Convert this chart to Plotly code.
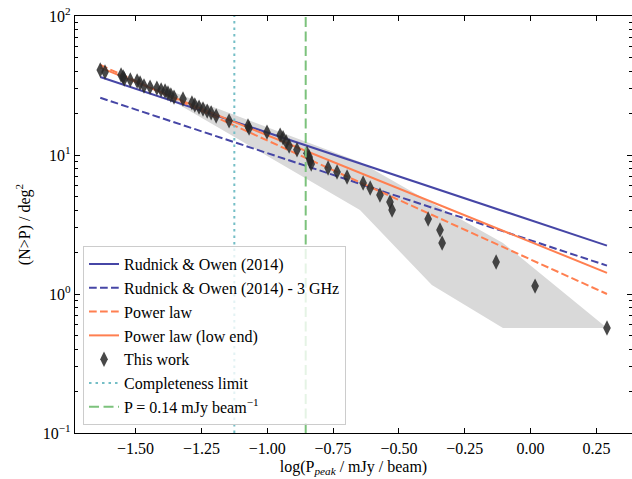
import plotly.graph_objects as go

# Cumulative source counts: log10(P_peak / mJy/beam) vs N(>P) per deg^2
log_p = [-1.634, -1.616, -1.555, -1.547, -1.543, -1.520, -1.494, -1.483, -1.468, -1.445,
         -1.419, -1.403, -1.388, -1.377, -1.366, -1.354, -1.320, -1.286, -1.275, -1.259,
         -1.244, -1.228, -1.213, -1.194, -1.145, -1.073, -1.069, -1.001, -0.951, -0.940,
         -0.928, -0.917, -0.887, -0.849, -0.841, -0.837, -0.833, -0.769, -0.735, -0.697,
         -0.636, -0.609, -0.572, -0.534, -0.526, -0.389, -0.344, -0.336, -0.131, 0.017,
         0.290]
n_gt_p = [40.9, 39.5, 37.6, 36.4, 35.2, 34.7, 34.1, 33.0, 31.4, 30.8,
          30.3, 29.4, 28.9, 27.9, 27.0, 26.1, 25.3, 23.7, 22.9, 22.1,
          21.4, 20.7, 20.1, 19.1, 17.6, 16.2, 15.6, 14.6, 13.9, 13.3,
          12.4, 11.6, 10.9, 10.3, 9.68, 9.06, 8.61, 8.06, 7.55, 6.95,
          6.29, 5.79, 5.16, 4.59, 4.02, 3.46, 2.89, 2.33, 1.70, 1.14,
          0.569]

# Uncertainty envelope
band_x = [-1.418, -0.648, -0.375, -0.105, 0.290]
band_upper = [31.3, 8.91, 4.52, 2.33, 0.569]
band_lower = [28.4, 4.02, 1.16, 0.569, 0.569]

# Model curves (straight in log-log space), given at their end points
model_x = [-1.634, 0.290]
ro2014 = [36.4, 2.23]
ro2014_3ghz = [25.8, 1.60]
power_law = [44.4, 1.00]
power_law_low = [42.5, 1.42]

# Reference flux levels
completeness_limit = -1.125
p_014 = -0.854

y_span = [0.1, 100]
x_range = [-1.730, 0.385]

y_ticks = [0.1, 1, 10, 100]
y_ticktext = ["10<sup>\u22121</sup>", "10<sup>0</sup>", "10<sup>1</sup>", "10<sup>2</sup>"]
x_ticks = [-1.5, -1.25, -1.0, -0.75, -0.5, -0.25, 0.0, 0.25]

BLUE = "#4646a6"
ORANGE = "#ff7f50"
TEAL = "#74bec6"
GREEN = "#7cc27c"
FONT = "Liberation Serif"

fig = go.Figure()

fig.add_trace(go.Scatter(
    x=band_x + band_x[::-1], y=band_upper + band_lower[::-1],
    fill="toself", fillcolor="#d9d9d9", line=dict(width=0),
    mode="lines", showlegend=False, hoverinfo="skip"))

series = [
    dict(x=model_x, y=ro2014, mode="lines",
         line=dict(color=BLUE, width=2), name="Rudnick &amp; Owen (2014)"),
    dict(x=model_x, y=ro2014_3ghz, mode="lines",
         line=dict(color=BLUE, width=2, dash="7.7px,3.3px"),
         name="Rudnick &amp; Owen (2014) - 3 GHz"),
    dict(x=model_x, y=power_law, mode="lines",
         line=dict(color=ORANGE, width=2, dash="7.7px,3.3px"), name="Power law"),
    dict(x=model_x, y=power_law_low, mode="lines",
         line=dict(color=ORANGE, width=2), name="Power law (low end)"),
    dict(x=log_p, y=n_gt_p, mode="markers",
         marker=dict(symbol="diamond-tall", size=11,
                     color="rgba(40,40,40,0.85)", line=dict(width=0)),
         name="This work"),
    dict(x=[completeness_limit] * 2, y=y_span, mode="lines",
         line=dict(color=TEAL, width=2, dash="2.5px,4px"), name="Completeness limit"),
    dict(x=[p_014] * 2, y=y_span, mode="lines",
         line=dict(color=GREEN, width=2, dash="10px,4.5px"),
         name="P = 0.14 mJy beam<sup>\u22121</sup>"),
]
for i, s in enumerate(series):
    fig.add_trace(go.Scatter(legendgroup=f"g{i}", **s))

axis_common = dict(
    showline=True, linecolor="black", linewidth=1.2, mirror="ticks",
    ticks="inside", ticklen=5, tickwidth=1.1, tickcolor="black",
    showgrid=False, zeroline=False,
    tickfont=dict(family=FONT, size=16, color="black"),
)

minor_y = [k * 10 ** d for d in (-1, 0, 1) for k in range(2, 10)]

fig.update_xaxes(range=x_range, tickvals=x_ticks, tickformat=".2f",
                 ticklabelstandoff=1,
                 title=dict(text="log(P<sub><i>peak</i></sub> / mJy / beam)",
                            font=dict(family=FONT, size=16, color="black"), standoff=4),
                 **axis_common)
fig.update_yaxes(type="log", range=[-1, 2], tickvals=y_ticks, ticktext=y_ticktext,
                 minor=dict(tickvals=minor_y, ticks="inside", ticklen=2.5,
                            tickcolor="black", tickwidth=0.8, showgrid=False),
                 title=dict(text="(N>P) / deg<sup>2</sup>",
                            font=dict(family=FONT, size=16, color="black"), standoff=8),
                 **axis_common)

fig.update_layout(
    width=632, height=479,
    margin=dict(l=75, r=0, t=16, b=46),
    paper_bgcolor="white", plot_bgcolor="white",
    font=dict(family=FONT, size=16, color="black"),
    legend=dict(x=0.0144, y=0.019, xanchor="left", yanchor="bottom",
                bgcolor="rgba(255,255,255,0.8)", bordercolor="#cccccc", borderwidth=1,
                font=dict(family=FONT, size=16, color="black"),
                tracegroupgap=0, itemwidth=30),
)

fig.write_html("out.html")
